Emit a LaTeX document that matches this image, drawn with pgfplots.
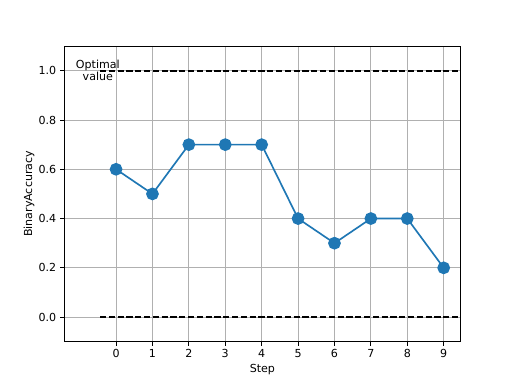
\documentclass[border=0pt]{standalone}
\usepackage{fontspec}
\setmainfont{DejaVu Sans}
\usepackage{pgfplots}
\pgfplotsset{compat=1.18}
\definecolor{mplblue}{HTML}{1F77B4}
\definecolor{gridgray}{HTML}{B0B0B0}
\begin{document}
\begin{tikzpicture}
\path[use as bounding box] (-0.8in,-0.528in) rectangle (5.6in,4.272in);
\begin{axis}[
  at={(0,0)}, anchor=south west,
  scale only axis,
  width=4.96in, height=3.696in,
  xmin=-1.43, xmax=9.47,
  ymin=-0.1, ymax=1.1,
  xtick={0,1,...,9},
  ytick={0,0.2,0.4,0.6,0.8,1.0},
  yticklabel style={/pgf/number format/.cd, fixed, fixed zerofill, precision=1},
  /pgf/number format/assume math mode=true,
  grid=major,
  major grid style={line width=0.8pt, gridgray},
  axis line style={line width=0.8pt},
  tick style={line width=0.8pt, black},
  tick align=outside,
  major tick length=3.5pt,
  xtick pos=bottom, ytick pos=left,
  tick label style={font=\fontsize{10}{12}\selectfont},
  label style={font=\fontsize{10}{12}\selectfont},
  xlabel={Step}, ylabel={BinaryAccuracy},
  xlabel style={yshift=1pt},
  ylabel style={yshift=-3pt},
  clip=true,
]
\addplot[black, dashed, line width=1.5pt, dash pattern=on 5.55pt off 2.4pt] coordinates {(-0.44,1.0) (9.5,1.0)};
\addplot[black, dashed, line width=1.5pt, dash pattern=on 5.55pt off 2.4pt] coordinates {(-0.44,0.0) (9.5,0.0)};
\addplot[mplblue, line width=1.5pt, mark=*, mark size=5pt, mark options={fill=mplblue, draw=mplblue}] coordinates {
(0,0.6) (1,0.5) (2,0.7) (3,0.7) (4,0.7) (5,0.4) (6,0.3) (7,0.4) (8,0.4) (9,0.2)
};
\node[align=center, font=\fontsize{10}{11}\selectfont, inner sep=0pt] at (axis cs:-0.5,1.0) {Optimal\\value};
\end{axis}
\end{tikzpicture}
\end{document}
